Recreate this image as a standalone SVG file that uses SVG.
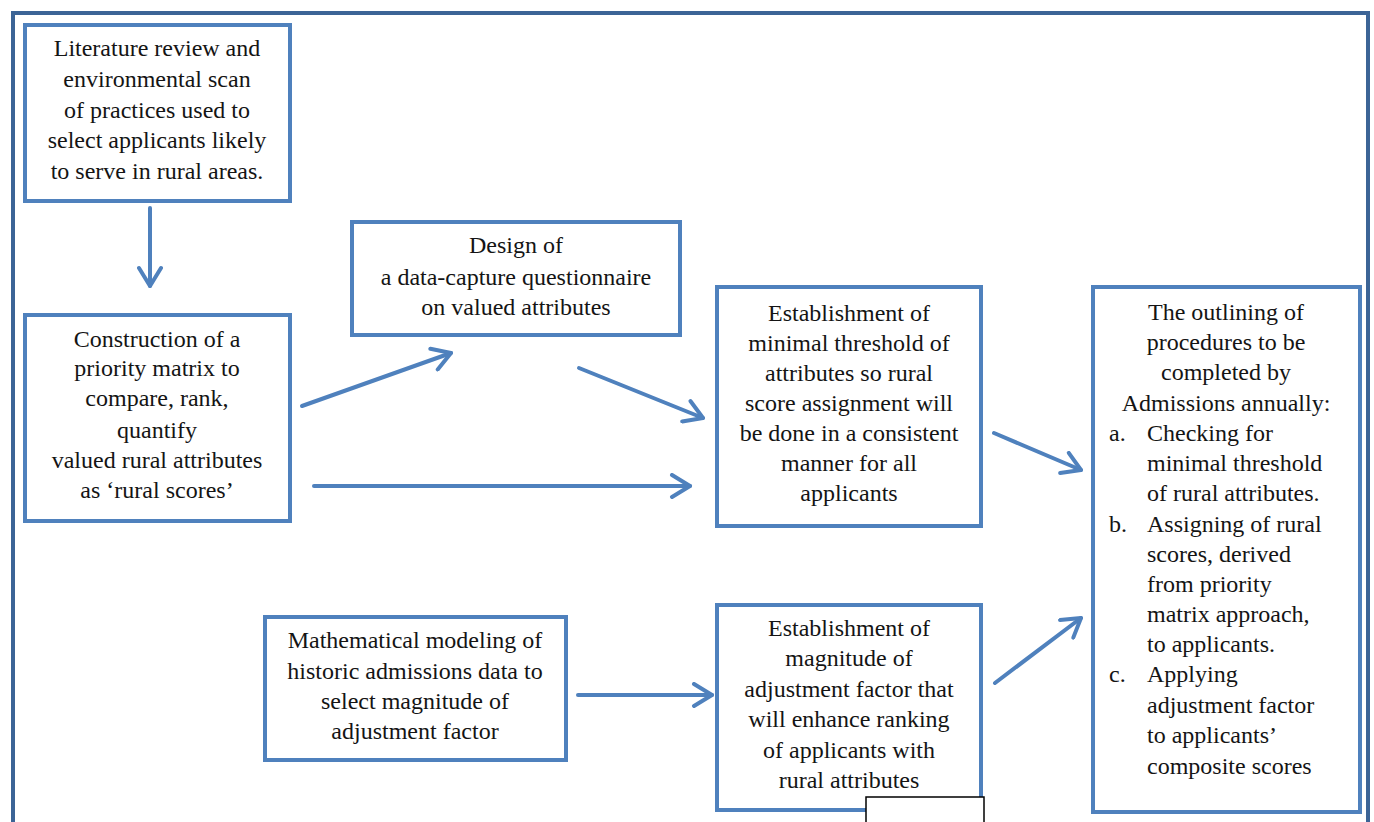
<svg xmlns="http://www.w3.org/2000/svg" width="1374" height="822" viewBox="0 0 1374 822">
<style>
.box{fill:#ffffff;stroke:#4f81bd;stroke-width:4}
.t{text-anchor:middle}
.c{stroke:#4f81bd;stroke-width:4;fill:none;stroke-linecap:round}
</style>
<defs>
<marker id="ah2" viewBox="0 0 26 26" refX="21" refY="13" markerWidth="26" markerHeight="26" markerUnits="userSpaceOnUse" orient="auto">
<path d="M3,2 L21,13 L3,24" fill="none" stroke="#4f81bd" stroke-width="4" stroke-linejoin="round" stroke-linecap="round"/>
</marker>
</defs>
<rect width="1374" height="822" fill="#ffffff"/>
<path d="M13,822 V13 H1368 V822" fill="none" stroke="#3c6496" stroke-width="4"/>

<g id="connectors">
<line class="c" x1="150" y1="208" x2="150" y2="286" marker-end="url(#ah2)"/>
<line class="c" x1="302" y1="406" x2="451" y2="353" marker-end="url(#ah2)"/>
<line class="c" x1="579" y1="368" x2="703" y2="418" marker-end="url(#ah2)"/>
<line class="c" x1="314" y1="486" x2="690" y2="486" marker-end="url(#ah2)"/>
<line class="c" x1="994" y1="433" x2="1081" y2="470" marker-end="url(#ah2)"/>
<line class="c" x1="578" y1="695" x2="712" y2="695" marker-end="url(#ah2)"/>
<line class="c" x1="995" y1="683" x2="1081" y2="618" marker-end="url(#ah2)"/>
</g>

<g font-family="Liberation Serif, Times New Roman, serif" font-size="24" fill="#141414">
<g id="n-literature">
<rect class="box" x="25" y="25" width="265" height="176"/>
<text class="t" x="157" y="56">Literature review  and</text>
<text class="t" x="157" y="87">environmental scan</text>
<text class="t" x="157" y="118">of practices used to</text>
<text class="t" x="157" y="148">select applicants likely</text>
<text class="t" x="157" y="179">to serve in rural areas.</text>
</g>

<g id="n-construction">
<rect class="box" x="25" y="315" width="265" height="206"/>
<text class="t" x="157" y="347">Construction of a</text>
<text class="t" x="157" y="376">priority matrix to</text>
<text class="t" x="157" y="406">compare, rank,</text>
<text class="t" x="157" y="438">quantify</text>
<text class="t" x="157" y="468">valued rural attributes</text>
<text class="t" x="157" y="498">as ‘rural scores’</text>
</g>

<g id="n-design">
<rect class="box" x="352" y="222" width="328" height="113"/>
<text class="t" x="516" y="253">Design of</text>
<text class="t" x="516" y="285">a data-capture questionnaire</text>
<text class="t" x="516" y="315">on valued attributes</text>
</g>

<g id="n-threshold">
<rect class="box" x="717" y="287" width="264" height="239"/>
<text class="t" x="849" y="321">Establishment of</text>
<text class="t" x="849" y="351">minimal threshold of</text>
<text class="t" x="849" y="381">attributes so rural</text>
<text class="t" x="849" y="411">score assignment will</text>
<text class="t" x="849" y="441">be done in a consistent</text>
<text class="t" x="849" y="471">manner for all</text>
<text class="t" x="849" y="501">applicants</text>
</g>

<g id="n-outlining">
<rect class="box" x="1093" y="287" width="267" height="525"/>
<text class="t" x="1226" y="320">The outlining of</text>
<text class="t" x="1226" y="350">procedures to be</text>
<text class="t" x="1226" y="380">completed by</text>
<text class="t" x="1226" y="411">Admissions annually:</text>
<text x="1109" y="441">a.</text>
<text x="1147" y="441">Checking for</text>
<text x="1147" y="471">minimal threshold</text>
<text x="1147" y="501">of rural attributes.</text>
<text x="1109" y="532">b.</text>
<text x="1147" y="532">Assigning of rural</text>
<text x="1147" y="562">scores, derived</text>
<text x="1147" y="592">from priority</text>
<text x="1147" y="622">matrix approach,</text>
<text x="1147" y="652">to applicants.</text>
<text x="1109" y="682">c.</text>
<text x="1147" y="682">Applying</text>
<text x="1147" y="713">adjustment factor</text>
<text x="1147" y="743">to applicants’</text>
<text x="1147" y="774">composite scores</text>
</g>

<g id="n-math">
<rect class="box" x="265" y="617" width="301" height="143"/>
<text class="t" x="415" y="648">Mathematical modeling of</text>
<text class="t" x="415" y="679">historic admissions data to</text>
<text class="t" x="415" y="709">select magnitude of</text>
<text class="t" x="415" y="739">adjustment factor</text>
</g>

<g id="n-magnitude">
<rect class="box" x="717" y="605" width="264" height="205"/>
<text class="t" x="849" y="636">Establishment of</text>
<text class="t" x="849" y="666">magnitude of</text>
<text class="t" x="849" y="697">adjustment factor that</text>
<text class="t" x="849" y="727">will enhance ranking</text>
<text class="t" x="849" y="758">of applicants with</text>
<text class="t" x="849" y="788">rural attributes</text>
</g>
</g>

<g id="n-blank">
<rect x="866" y="797" width="118" height="30" fill="#ffffff" stroke="#000000" stroke-width="1.5"/>
</g>
</svg>
